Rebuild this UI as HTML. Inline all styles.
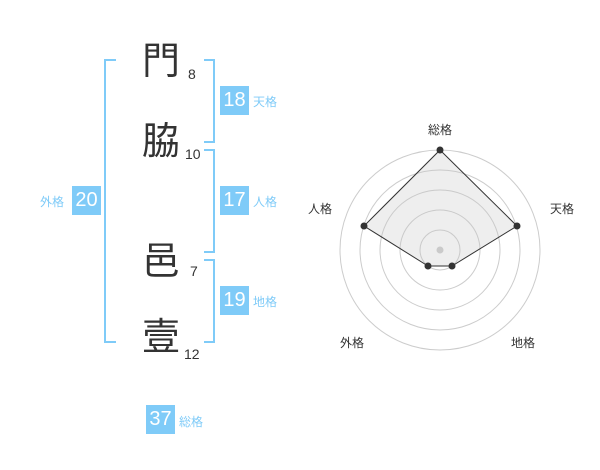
<!DOCTYPE html>
<html><head><meta charset="utf-8"><style>
body{margin:0;width:600px;height:470px;background:#fff;position:relative;font-family:"Liberation Sans","Noto Sans CJK JP",sans-serif;overflow:hidden}
.a{position:absolute}
.k{font-size:38px;color:#333;width:50px;text-align:center;line-height:40px}
.n{font-size:14px;color:#333;line-height:16px}
.b{background:#7fcbf8;color:#fff;font-size:20px;width:29px;height:29px;line-height:29px;text-align:center}
.l{font-size:12px;color:#7fcbf8;line-height:14px}
.br{border:2px solid #7fcbf8}
</style></head><body>
<div class="a br" style="left:104px;top:59px;width:10px;height:280px;border-right:none"></div>
<div class="a br" style="left:204px;top:59px;width:9px;height:80px;border-left:none"></div>
<div class="a br" style="left:204px;top:149px;width:9px;height:100px;border-left:none"></div>
<div class="a br" style="left:204px;top:259px;width:9px;height:80px;border-left:none"></div>

<div class="a k" style="left:136px;top:42px">門</div>
<div class="a k" style="left:136px;top:122px">脇</div>
<div class="a k" style="left:136px;top:242px">邑</div>
<div class="a k" style="left:136px;top:318px">壹</div>
<div class="a n" style="left:188px;top:66px">8</div>
<div class="a n" style="left:185px;top:146px">10</div>
<div class="a n" style="left:190px;top:263px">7</div>
<div class="a n" style="left:184px;top:346px">12</div>

<div class="a b" style="left:220px;top:86px">18</div><div class="a l" style="left:253px;top:95px">天格</div>
<div class="a b" style="left:220px;top:186px">17</div><div class="a l" style="left:253px;top:195px">人格</div>
<div class="a b" style="left:220px;top:286px">19</div><div class="a l" style="left:253px;top:295px">地格</div>
<div class="a b" style="left:72px;top:186px">20</div><div class="a l" style="left:40px;top:195px">外格</div>
<div class="a b" style="left:146px;top:405px">37</div><div class="a l" style="left:179px;top:415px">総格</div>

<svg class="a" style="left:0;top:0" width="600" height="470">
<g fill="none" stroke="#ccc" stroke-width="1">
<circle cx="440" cy="250" r="20"/><circle cx="440" cy="250" r="40"/><circle cx="440" cy="250" r="60"/><circle cx="440" cy="250" r="80"/><circle cx="440" cy="250" r="100"/>
</g>
<circle cx="440" cy="250" r="3.5" fill="#ccc"/>
<polygon points="440,150 517,226 452,266 428,266 364,226" fill="rgba(200,200,200,0.3)" stroke="#333" stroke-width="1"/>
<g fill="#333"><circle cx="440" cy="150" r="3.5"/><circle cx="517" cy="226" r="3.5"/><circle cx="452" cy="266" r="3.5"/><circle cx="428" cy="266" r="3.5"/><circle cx="364" cy="226" r="3.5"/></g>
<g font-size="12" fill="#333" text-anchor="middle" font-family="Liberation Sans,Noto Sans CJK JP,sans-serif">
<text x="440" y="134">総格</text><text x="562" y="213">天格</text><text x="523" y="347">地格</text><text x="352" y="347">外格</text><text x="320" y="213">人格</text>
</g>
</svg>
</body></html>
